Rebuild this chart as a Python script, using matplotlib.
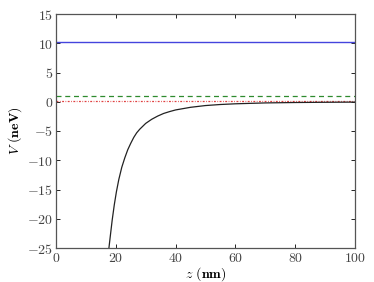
import numpy as np
import matplotlib
matplotlib.use("Agg")
import matplotlib.pyplot as plt
from matplotlib.ticker import FuncFormatter

plt.rcParams['mathtext.fontset'] = 'cm'
plt.rcParams['font.family'] = 'serif'
plt.rcParams['font.serif'] = ['DejaVu Serif']

# potential curve
z_nm = [17.7, 18.2, 18.8, 19.5, 20.2, 21.0, 22.0, 23.0, 24.0, 25.0, 26.0, 27.0, 28.0,
        30.0, 32.0, 34.0, 36.0, 38.0, 40.0, 45.0, 50.0, 55.0, 60.0, 70.0, 80.0, 90.0, 100.0]
V_neV = [-25.0, -22.8, -20.2, -17.6, -15.4, -13.3, -11.2, -9.6, -8.2, -7.1, -6.1, -5.3, -4.7,
         -3.7, -3.0, -2.45, -2.0, -1.68, -1.4, -0.95, -0.65, -0.47, -0.35, -0.2, -0.13, -0.09, -0.06]

# horizontal reference levels
V_blue = 10.25
V_green = 1.0
V_red = 0.12

fig = plt.figure(figsize=(3.74, 2.82), dpi=100)
ax = fig.add_axes([56 / 374, 1 - 248 / 282, 299 / 374, 234 / 282])

ax.axhline(V_blue, color='#4444dd', lw=1.0)
ax.axhline(V_green, color='#2e8b2e', lw=0.9, ls='--', dashes=(4, 3))
ax.axhline(V_red, color='#e04040', lw=0.9, ls='-.', dashes=(1.5, 1.2, 0.6, 1.2))
ax.plot(z_nm, V_neV, color='#222222', lw=0.9)

ax.set_xlim(0, 100)
ax.set_ylim(-25, 15)
ax.set_xticks([0, 20, 40, 60, 80, 100])
ax.set_yticks([-25, -20, -15, -10, -5, 0, 5, 10, 15])
fmt = FuncFormatter(lambda v, p: r'$%d$' % v)
ax.xaxis.set_major_formatter(fmt)
ax.yaxis.set_major_formatter(fmt)
ax.tick_params(direction='in', top=True, right=True, labelsize=10, length=3, width=0.6, pad=2,
               labelcolor='#444444')
for s in ax.spines.values():
    s.set_linewidth(0.9)
    s.set_color('#555555')

ax.set_xlabel(r'$z$ $\mathbf{(nm)}$', fontsize=10, labelpad=0)
ax.set_ylabel(r'$V$ $\mathbf{(neV)}$', fontsize=10, labelpad=2)

fig.savefig("out.png", dpi=100)
